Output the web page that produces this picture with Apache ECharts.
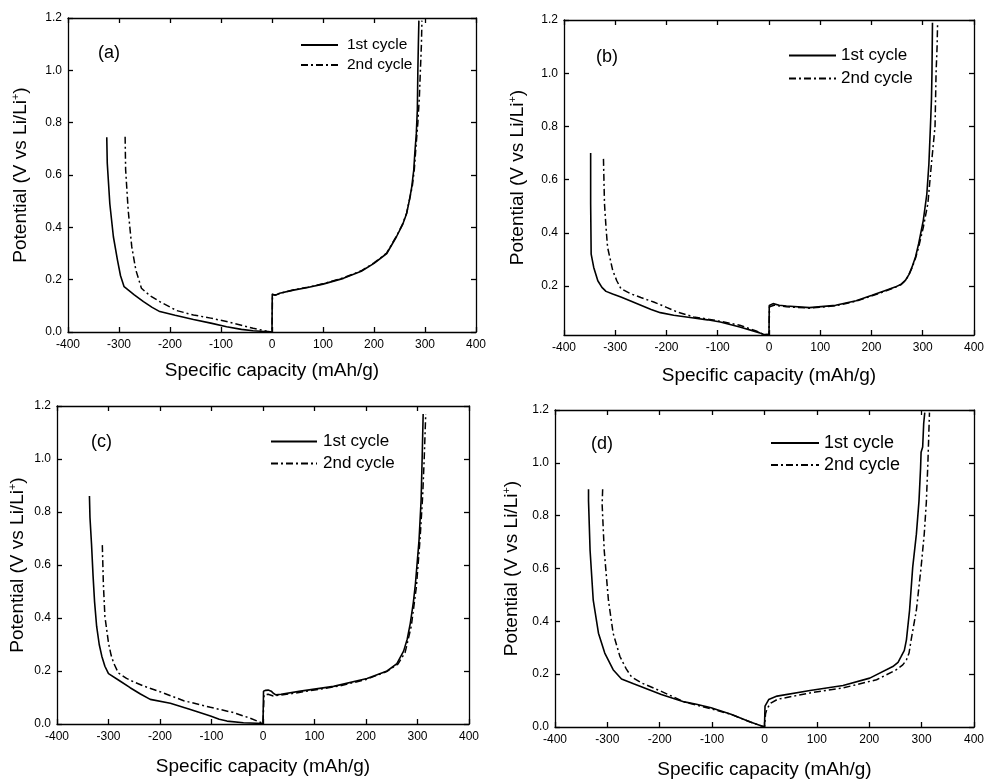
<!DOCTYPE html>
<html>
<head>
<meta charset="utf-8">
<script src="https://cdn.jsdelivr.net/npm/echarts@6/dist/echarts.min.js"></script>
<style>html,body{margin:0;padding:0;background:#fff}#c{width:987px;height:780px}</style>
</head>
<body>
<div id="c"></div>
<script>
// ---- data (Specific capacity mAh/g, Potential V) ----
const seriesNames = ['1st cycle', '2nd cycle'];
const panelLabels = ['(a)', '(b)', '(c)', '(d)'];
const xTickValues = [-400, -300, -200, -100, 0, 100, 200, 300, 400];
const yTickValues = [0.0, 0.2, 0.4, 0.6, 0.8, 1.0, 1.2];
const yTickValuesB = [0.2, 0.4, 0.6, 0.8, 1.0, 1.2];

// panel (a)
const a1Discharge = [[-324,0.744],[-323,0.645],[-318,0.49],[-311,0.364],[-303,0.275],[-297,0.215],[-290,0.173],[-270,0.142],[-252,0.116],[-235,0.094],[-220,0.078],[-190,0.064],[-154,0.048],[-120,0.034],[-89,0.020],[-60,0.010],[-37,0.005],[0,0]];
const a1Charge = [[0,0],[0.5,0.145],[6,0.14],[15,0.148],[42,0.16],[70,0.17],[100,0.183],[140,0.205],[175,0.232],[200,0.262],[225,0.30],[244,0.364],[256,0.41],[264,0.453],[270,0.51],[274,0.555],[278,0.62],[280,0.683],[283,0.76],[285,0.85],[286,1.0],[287,1.1],[288,1.19]];
const a2Discharge = [[-288,0.746],[-287,0.62],[-282,0.466],[-275,0.326],[-267,0.237],[-256,0.167],[-240,0.14],[-220,0.116],[-187,0.082],[-154,0.065],[-120,0.053],[-89,0.040],[-60,0.026],[-37,0.014],[-10,0.003],[0,0]];
const a2Charge = [[0,0],[1,0.142],[8,0.142],[20,0.15],[45,0.162],[70,0.171],[100,0.184],[140,0.207],[175,0.234],[200,0.264],[225,0.302],[244,0.366],[256,0.412],[264,0.455],[270,0.51],[275,0.555],[279,0.62],[282,0.7],[286,0.8],[289,0.9],[291,1.0],[293,1.1],[294,1.19]];

// panel (b)
const b1Discharge = [[-348,0.70],[-348,0.51],[-347,0.32],[-342,0.27],[-334,0.22],[-326,0.195],[-318,0.18],[-305,0.17],[-289,0.159],[-270,0.144],[-250,0.128],[-230,0.112],[-212,0.10],[-186,0.09],[-147,0.08],[-120,0.073],[-95,0.065],[-57,0.046],[-18,0.024],[-10,0.0175]];
const b1Charge = [[0,0.0175],[0.5,0.127],[8,0.134],[20,0.128],[34,0.125],[79,0.119],[130,0.1275],[170,0.145],[201,0.165],[230,0.185],[246,0.196],[258,0.207],[266,0.221],[273,0.243],[279,0.271],[286,0.31],[292,0.359],[301,0.446],[308,0.546],[312,0.659],[315,0.80],[317,0.9],[318,1.0],[319,1.19]];
const b2Discharge = [[-323,0.678],[-321,0.51],[-318,0.42],[-315,0.346],[-305,0.259],[-297,0.22],[-289,0.19],[-270,0.171],[-250,0.157],[-225,0.14],[-200,0.12],[-179,0.1025],[-147,0.084],[-120,0.076],[-95,0.0675],[-57,0.0525],[-25,0.031],[-10,0.0175]];
const b2Charge = [[0,0.0175],[1,0.122],[10,0.128],[34,0.122],[79,0.117],[130,0.126],[170,0.143],[201,0.163],[230,0.183],[246,0.195],[258,0.206],[266,0.22],[273,0.242],[279,0.268],[286,0.305],[292,0.346],[301,0.42],[310,0.51],[317,0.66],[321,0.74],[324,0.8],[326,1.0],[328,1.1],[329,1.19]];

// panel (c)
const c1Discharge = [[-337,0.86],[-336,0.78],[-333,0.68],[-330,0.56],[-327,0.46],[-323,0.368],[-318,0.30],[-313,0.256],[-307,0.218],[-300,0.19],[-280,0.165],[-258,0.137],[-238,0.113],[-219,0.093],[-180,0.078],[-141,0.055],[-102,0.03],[-85,0.018],[-70,0.011],[-38,0.005],[0,0.002]];
const c1Charge = [[0,0.002],[1,0.124],[5,0.127],[10,0.128],[16,0.124],[20,0.116],[25,0.11],[35,0.112],[73,0.124],[137,0.142],[202,0.172],[241,0.2],[260,0.228],[273,0.275],[280,0.32],[286,0.38],[292,0.46],[296,0.53],[303,0.694],[307,0.845],[309,1.0],[311,1.17]];
const c2Discharge = [[-312,0.675],[-310,0.53],[-307,0.406],[-300,0.306],[-295,0.26],[-290,0.23],[-281,0.193],[-265,0.172],[-251,0.159],[-230,0.142],[-200,0.122],[-154,0.088],[-102,0.063],[-57,0.043],[-25,0.022],[0,0.002]];
const c2Charge = [[0,0.002],[2,0.11],[10,0.112],[20,0.106],[50,0.113],[100,0.128],[150,0.144],[200,0.168],[240,0.198],[262,0.226],[276,0.27],[288,0.37],[298,0.52],[305,0.7],[310,0.86],[313,1.0],[316,1.17]];

// panel (d)
const d1Discharge = [[-336,0.90],[-336,0.856],[-333,0.668],[-327,0.48],[-317,0.355],[-305,0.28],[-289,0.217],[-273,0.182],[-250,0.164],[-229,0.148],[-197,0.123],[-153,0.095],[-130,0.086],[-102,0.073],[-64,0.048],[-27,0.019],[0,0]];
const d1Charge = [[0,0],[1,0.079],[8,0.104],[24,0.117],[87,0.138],[150,0.157],[201,0.185],[245,0.229],[255,0.245],[261,0.267],[267,0.29],[271,0.33],[277,0.442],[283,0.605],[290,0.73],[295,0.856],[298,0.98],[299,1.04],[302,1.06],[304,1.15],[306,1.19]];
const d2Discharge = [[-309,0.90],[-310,0.843],[-306,0.668],[-298,0.48],[-289,0.355],[-276,0.267],[-264,0.22],[-254,0.19],[-235,0.167],[-197,0.135],[-153,0.095],[-102,0.069],[-64,0.048],[-27,0.019],[0,0]];
const d2Charge = [[0,0],[2,0.05],[5,0.07],[12,0.09],[25,0.105],[87,0.129],[150,0.148],[214,0.179],[252,0.217],[264,0.235],[271,0.254],[276,0.28],[280,0.33],[290,0.442],[299,0.605],[305,0.73],[309,0.85],[312,1.0],[315,1.19]];

const cycle1 = [a1Discharge.concat(a1Charge), b1Discharge.concat(b1Charge), c1Discharge.concat(c1Charge), d1Discharge.concat(d1Charge)];
const cycle2 = [a2Discharge.concat(a2Charge), b2Discharge.concat(b2Charge), c2Discharge.concat(c2Charge), d2Discharge.concat(d2Charge)];
const yMins = [0, 0.016, 0, 0];

// ---- layout ----
const FONT = '"Liberation Sans", Arial, Helvetica, sans-serif';
const grids = [
  {left: 68, top: 18, width: 408, height: 314},
  {left: 564, top: 20, width: 414, height: 315},
  {left: 57, top: 406, width: 412, height: 318},
  {left: 555, top: 410, width: 422, height: 317}
];
const xNameGap = [29, 31, 33, 33];
const yNameGap = [37, 36, 29, 33];
const legendPos = [
  {left: 300, top: 37, w: 37, fs: 15.5, gap: 4, pad: 4},
  {left: 788, top: 47, w: 47, fs: 17, gap: 6, pad: 0},
  {left: 270, top: 433, w: 46, fs: 17, gap: 5, pad: 1},
  {left: 770, top: 434, w: 48, fs: 18, gap: 4, pad: 0}
];
const labelPos = [
  {left: 98, top: 44},
  {left: 596, top: 48},
  {left: 91, top: 433},
  {left: 591, top: 435}
];

const axisLineStyle = {color: '#000', width: 1.3};
const xAxes = [], yAxes = [], series = [], legends = [], titles = [];
const DASHDOT = [7, 3, 2, 3];

for (let i = 0; i < 4; i++) {
  const isB = i === 1;
  xAxes.push({
    gridIndex: i, type: 'value', min: -400, max: 400, interval: 100, position: 'bottom',
    name: 'Specific capacity (mAh/g)', nameLocation: 'middle', nameGap: xNameGap[i],
    nameTextStyle: {fontFamily: FONT, fontSize: 19, color: '#000'},
    axisLine: {show: true, onZero: false, lineStyle: axisLineStyle},
    axisTick: {show: true, inside: true, length: 5, lineStyle: axisLineStyle},
    axisLabel: {fontFamily: FONT, fontSize: 12, color: '#000', margin: 7, showMinLabel: true, showMaxLabel: true},
    splitLine: {show: false}
  });
  xAxes.push({
    gridIndex: i, type: 'value', min: -400, max: 400, interval: 100, position: 'top',
    axisLine: {show: true, onZero: false, lineStyle: axisLineStyle},
    axisTick: {show: true, inside: true, length: 5, lineStyle: axisLineStyle},
    axisLabel: {show: false}, splitLine: {show: false}
  });
  const yCommon = {
    gridIndex: i, type: 'value', min: yMins[i], max: 1.2,
    splitLine: {show: false}
  };
  if (isB) {
    yCommon.axisTick = {show: true, inside: true, length: 5, lineStyle: axisLineStyle, customValues: yTickValuesB};
  } else {
    yCommon.interval = 0.2;
    yCommon.axisTick = {show: true, inside: true, length: 5, lineStyle: axisLineStyle};
  }
  const yLabel = {fontFamily: FONT, fontSize: 12, color: '#000', margin: 6, formatter: v => Number(v).toFixed(1)};
  if (isB) yLabel.customValues = yTickValuesB;
  yAxes.push(Object.assign({}, yCommon, {
    position: 'left',
    name: 'Potential (V vs Li/Li{sup|+})', nameLocation: 'middle', nameGap: yNameGap[i], nameRotate: 90,
    nameTextStyle: {fontFamily: FONT, fontSize: 19, color: '#000',
      rich: {sup: {fontFamily: FONT, fontSize: 11, color: '#000', verticalAlign: 'top', padding: [0, 0, 10, 0]}}},
    axisLine: {show: true, onZero: false, lineStyle: axisLineStyle},
    axisLabel: yLabel
  }));
  yAxes.push(Object.assign({}, yCommon, {
    position: 'right',
    axisLine: {show: true, onZero: false, lineStyle: axisLineStyle},
    axisLabel: {show: false}
  }));

  series.push({
    name: seriesNames[0], type: 'line', xAxisIndex: 2 * i, yAxisIndex: 2 * i,
    data: cycle1[i], showSymbol: false, symbol: 'none', smooth: false, animation: false,
    lineStyle: {color: '#000', width: 1.6, type: 'solid'}, itemStyle: {color: '#000'}
  });
  series.push({
    name: seriesNames[1], type: 'line', xAxisIndex: 2 * i, yAxisIndex: 2 * i,
    data: cycle2[i], showSymbol: false, symbol: 'none', smooth: false, animation: false,
    lineStyle: {color: '#000', width: 1.5, type: DASHDOT}, itemStyle: {color: '#000'}
  });

  const lp = legendPos[i];
  legends.push({
    left: lp.left, top: lp.top, orient: 'vertical', padding: 0, itemGap: lp.gap,
    itemWidth: lp.w, itemHeight: 14,
    selectedMode: false,
    itemStyle: {opacity: 0, borderWidth: 0},
    lineStyle: {opacity: 1},
    data: seriesNames,
    textStyle: {fontFamily: FONT, fontSize: lp.fs, color: '#000', padding: [0, 0, 0, lp.pad]}
  });
  titles.push({
    text: panelLabels[i], left: labelPos[i].left, top: labelPos[i].top, padding: 0,
    textStyle: {fontFamily: FONT, fontSize: 18, fontWeight: 'normal', color: '#000'}
  });
}

const chart = echarts.init(document.getElementById('c'), null, {renderer: 'canvas'});
chart.setOption({
  backgroundColor: '#fff',
  animation: false,
  title: titles,
  legend: legends,
  grid: grids,
  xAxis: xAxes,
  yAxis: yAxes,
  series: series
});
</script>
</body>
</html>
